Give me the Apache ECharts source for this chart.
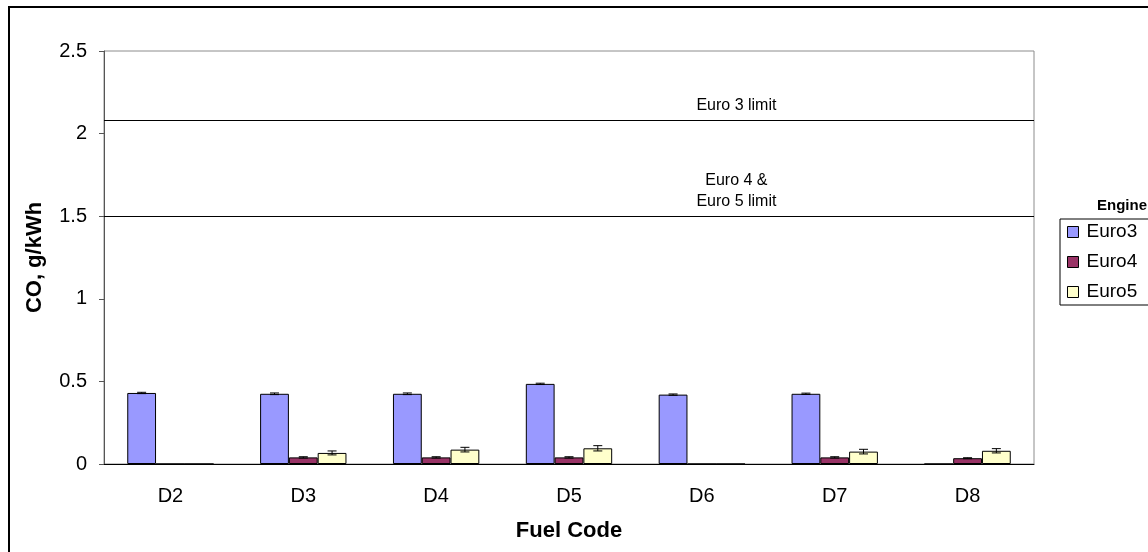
<!DOCTYPE html>
<html>
<head>
<meta charset="utf-8">
<script src="https://cdn.jsdelivr.net/npm/echarts@6/dist/echarts.min.js"></script>
<style>
  html, body { margin: 0; padding: 0; background: #fff; }
  #chart { width: 1148px; height: 552px; }
</style>
</head>
<body>
<div id="chart"></div>
<script>
// values
const categories = ['D2', 'D3', 'D4', 'D5', 'D6', 'D7', 'D8'];
const seriesNames = ['Euro3', 'Euro4', 'Euro5'];
const euro3 = [0.43, 0.425, 0.425, 0.485, 0.42, 0.425, 0];
const euro4 = [0, 0.04, 0.04, 0.04, 0, 0.04, 0.035];
const euro5 = [0, 0.067, 0.087, 0.095, 0, 0.075, 0.08];
const err3 = [0.004, 0.005, 0.005, 0.004, 0.004, 0.004, 0];
const err4 = [0, 0.004, 0.004, 0.004, 0, 0.004, 0.003];
const err5 = [0, 0.012, 0.014, 0.016, 0, 0.014, 0.013];
const yTicks = [0, 0.5, 1, 1.5, 2, 2.5];
const limitValues = [2.08, 1.5];
const limitTexts = ['Euro 3 limit', 'Euro 4 &\nEuro 5 limit'];

const FONT = 'Liberation Sans, Arial, sans-serif';
const colors = ['#9999FF', '#993366', '#FFFFCC'];
const values = [euro3, euro4, euro5];
const errors = [err3, err4, err5];
const catGap = 0.35;
const captionAt = 4.26; // category position (fractional index) of the limit captions

const chart = echarts.init(document.getElementById('chart'), null, {renderer: 'canvas'});

// error bars drawn at the bar's offset inside its category band
function errorRenderer(idx) {
  return function (params, api) {
    const x = api.value(0);
    const v = api.value(1);
    const e = api.value(2);
    if (!e) return null;
    const band = api.size([1, 0])[0];
    const barW = band * (1 - catGap) / 3;
    const hi = api.coord([x, v + e]);
    const lo = api.coord([x, v - e]);
    const cx = hi[0] + (idx - 1) * barW;
    const cap = 4.5;
    const style = {stroke: '#000', lineWidth: 1};
    return {
      type: 'group',
      children: [
        {type: 'line', shape: {x1: cx, y1: hi[1], x2: cx, y2: lo[1]}, style},
        {type: 'line', shape: {x1: cx - cap, y1: hi[1], x2: cx + cap, y2: hi[1]}, style},
        {type: 'line', shape: {x1: cx - cap, y1: lo[1], x2: cx + cap, y2: lo[1]}, style},
      ],
    };
  };
}

const barSeries = seriesNames.map((name, i) => ({
  name,
  type: 'bar',
  data: values[i],
  barGap: '0%',
  barCategoryGap: (catGap * 100) + '%',
  itemStyle: {color: colors[i], borderColor: '#000', borderWidth: 1},
  emphasis: {disabled: true},
  z: 2,
}));

barSeries[0].markLine = {
  silent: true,
  symbol: 'none',
  label: {show: false},
  lineStyle: {color: '#000', width: 1, type: 'solid'},
  data: limitValues.map((v) => ({yAxis: v})),
};

const errSeries = seriesNames.map((name, i) => ({
  name: name + ' err',
  type: 'custom',
  renderItem: errorRenderer(i),
  data: values[i].map((v, j) => [j, v, errors[i][j]]),
  z: 5,
  silent: true,
}));

chart.setOption({
  animation: false,
  textStyle: {fontFamily: FONT},
  grid: {left: 104, right: 114, top: 51, bottom: 88, show: true, borderColor: '#8c8c8c', borderWidth: 1},
  legend: {
    data: seriesNames,
    orient: 'vertical',
    left: 1060,
    top: 219,
    padding: [3, 80, 3, 7],
    borderColor: '#000',
    borderWidth: 1,
    itemWidth: 11,
    itemHeight: 11,
    itemGap: 10,
    icon: 'rect',
    itemStyle: {borderColor: '#000', borderWidth: 1},
    textStyle: {fontSize: 19, lineHeight: 20, color: '#000', padding: [0, 0, 0, 3]},
    selectedMode: false,
  },
  xAxis: {
    type: 'category',
    data: categories,
    name: 'Fuel Code',
    nameLocation: 'middle',
    nameGap: 56,
    nameTextStyle: {fontSize: 22, fontWeight: 'bold', color: '#000'},
    axisLine: {lineStyle: {color: '#000', width: 1}},
    axisTick: {length: 6, lineStyle: {color: '#000'}},
    axisLabel: {fontSize: 20, color: '#000', margin: 22},
  },
  yAxis: {
    type: 'value',
    min: yTicks[0],
    max: yTicks[yTicks.length - 1],
    interval: 0.5,
    name: 'CO, g/kWh',
    nameLocation: 'middle',
    nameGap: 58,
    nameTextStyle: {fontSize: 22, fontWeight: 'bold', color: '#000'},
    axisLine: {show: true, lineStyle: {color: '#555', width: 1}},
    axisTick: {show: true, length: 5, lineStyle: {color: '#555'}},
    splitLine: {show: false},
    axisLabel: {fontSize: 20, color: '#000', margin: 17},
  },
  series: barSeries.concat(errSeries),
});

// limit captions and the frame, placed through the chart's own scales
const graphics = [
  {
    type: 'rect',
    shape: {x: 9, y: 7, width: 1300, height: 700},
    style: {fill: 'none', stroke: '#000', lineWidth: 2},
    silent: true,
  },
  {
    type: 'text',
    x: 1122,
    y: 206,
    style: {text: 'Engine', fontSize: 15, fontWeight: 'bold', fill: '#000', align: 'center', verticalAlign: 'middle', fontFamily: FONT},
    silent: true,
  },
];
const lo = Math.floor(captionAt);
limitValues.forEach((v, i) => {
  const a = chart.convertToPixel({gridIndex: 0}, [lo, v]);
  const b = chart.convertToPixel({gridIndex: 0}, [lo + 1, v]);
  const px = a[0] + (b[0] - a[0]) * (captionAt - lo);
  graphics.push({
    type: 'text',
    x: px,
    y: a[1] - 4,
    style: {
      text: limitTexts[i],
      fontSize: 16,
      lineHeight: 21,
      fill: '#000',
      align: 'center',
      verticalAlign: 'bottom',
      fontFamily: FONT,
    },
    silent: true,
  });
});
chart.setOption({graphic: graphics});
</script>
</body>
</html>
